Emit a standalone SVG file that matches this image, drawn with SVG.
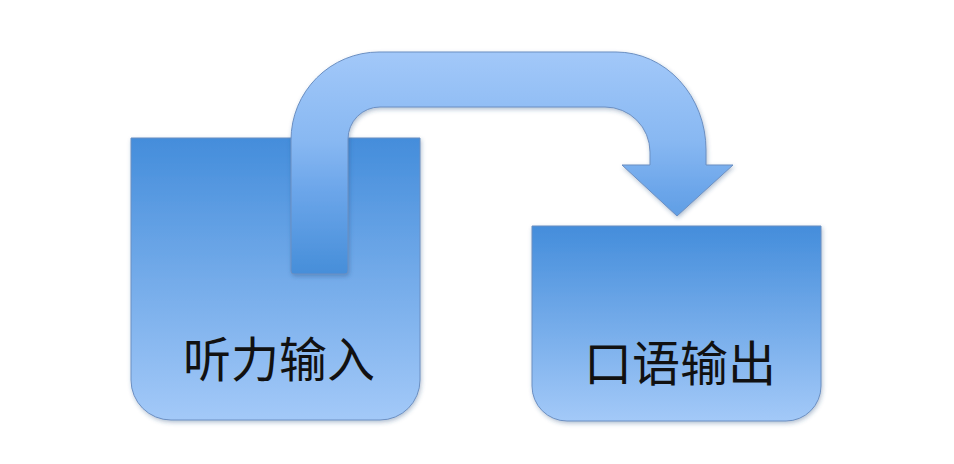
<svg xmlns="http://www.w3.org/2000/svg" width="954" height="464" viewBox="0 0 954 464">
  <defs>
    <linearGradient id="boxL" gradientUnits="userSpaceOnUse" x1="0" y1="138" x2="0" y2="420">
      <stop offset="0" stop-color="#448ddb"/>
      <stop offset="1" stop-color="#a3c9f8"/>
    </linearGradient>
    <linearGradient id="boxR" gradientUnits="userSpaceOnUse" x1="0" y1="226" x2="0" y2="421">
      <stop offset="0" stop-color="#448ddb"/>
      <stop offset="1" stop-color="#a3c9f8"/>
    </linearGradient>
    <linearGradient id="arrowG" gradientUnits="userSpaceOnUse" x1="0" y1="52" x2="0" y2="274">
      <stop offset="0" stop-color="#a2c8f9"/>
      <stop offset="0.4" stop-color="#88b8f2"/>
      <stop offset="0.62" stop-color="#6ca6ea"/>
      <stop offset="1" stop-color="#468ed9"/>
    </linearGradient>
    <filter id="shadow" x="-10%" y="-10%" width="120%" height="125%">
      <feDropShadow dx="1" dy="2" stdDeviation="2" flood-color="#2c4f80" flood-opacity="0.35"/>
    </filter>
    <style>
      .box { stroke: #6b8fc2; stroke-width: 1; filter: url(#shadow); }
      .arrow { fill: url(#arrowG); stroke: #6b8fc2; stroke-width: 1; filter: url(#shadow); }
      .label { font-family: "Noto Sans CJK SC", "Noto Sans CJK TC", sans-serif; font-size: 48px; fill: #111111; text-anchor: middle; }
    </style>
  </defs>
  <rect width="954" height="464" fill="#ffffff"/>
  <g id="node-listening">
    <path class="box" fill="url(#boxL)" d="M131,138 L420,138 L420,380 A40,40 0 0 1 380,420 L171,420 A40,40 0 0 1 131,380 Z"/>
    <text class="label" x="279" y="377">听力输入</text>
  </g>
  <g id="node-speaking">
    <path class="box" fill="url(#boxR)" d="M532,226 L821,226 L821,386 A35,35 0 0 1 786,421 L567,421 A35,35 0 0 1 532,386 Z"/>
    <text class="label" x="680" y="381">口语输出</text>
  </g>
  <g id="connectors">
    <path class="arrow" d="M291,271 L291,140 A88,88 0 0 1 379,52 L616,52 A90,98 0 0 1 706,150 L706,165 L733,165 L677,216 L622,165 L650,165 L650,152 A45,45 0 0 0 605,107 L380,107 A32,32 0 0 0 348,139 L348,271 A3,3 0 0 1 345,274 L294,274 A3,3 0 0 1 291,271 Z"/>
  </g>
</svg>
